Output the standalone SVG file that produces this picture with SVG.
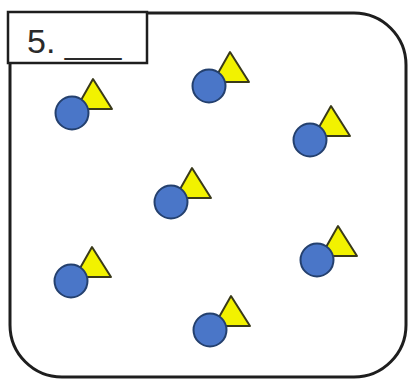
<svg xmlns="http://www.w3.org/2000/svg" width="409" height="380" viewBox="0 0 409 380">
<defs>
<style>
.frame{fill:#fff;stroke:#1e1e1e;stroke-width:3}
.label{fill:#fff;stroke:#1e1e1e;stroke-width:2.5}
.tri{fill:#f2f200;stroke:#3a3a1a;stroke-width:2;stroke-linejoin:round}
.cir{fill:#4a76c8;stroke:#24406e;stroke-width:2}
.t{font-family:"Liberation Sans",Arial,sans-serif;font-size:34px;fill:#2a2a2a}
</style>
<g id="pair">
<polygon class="tri" points="21,-34 40,-4 4,-4"/>
<circle class="cir" cx="0" cy="0" r="16.5"/>
</g>
</defs>
<rect class="frame" x="10" y="13" width="396" height="364" rx="52"/>
<g id="label">
<rect class="label" x="8" y="12" width="139" height="51"/>
<text class="t" x="27" y="53">5. ___</text>
</g>
<g id="shapes">
<use id="p1" href="#pair" x="72" y="113"/>
<use id="p2" href="#pair" x="209" y="86"/>
<use id="p3" href="#pair" x="310" y="140"/>
<use id="p4" href="#pair" x="171" y="202"/>
<use id="p5" href="#pair" x="71" y="281"/>
<use id="p6" href="#pair" x="317" y="260"/>
<use id="p7" href="#pair" x="210" y="330"/>
</g>
</svg>
